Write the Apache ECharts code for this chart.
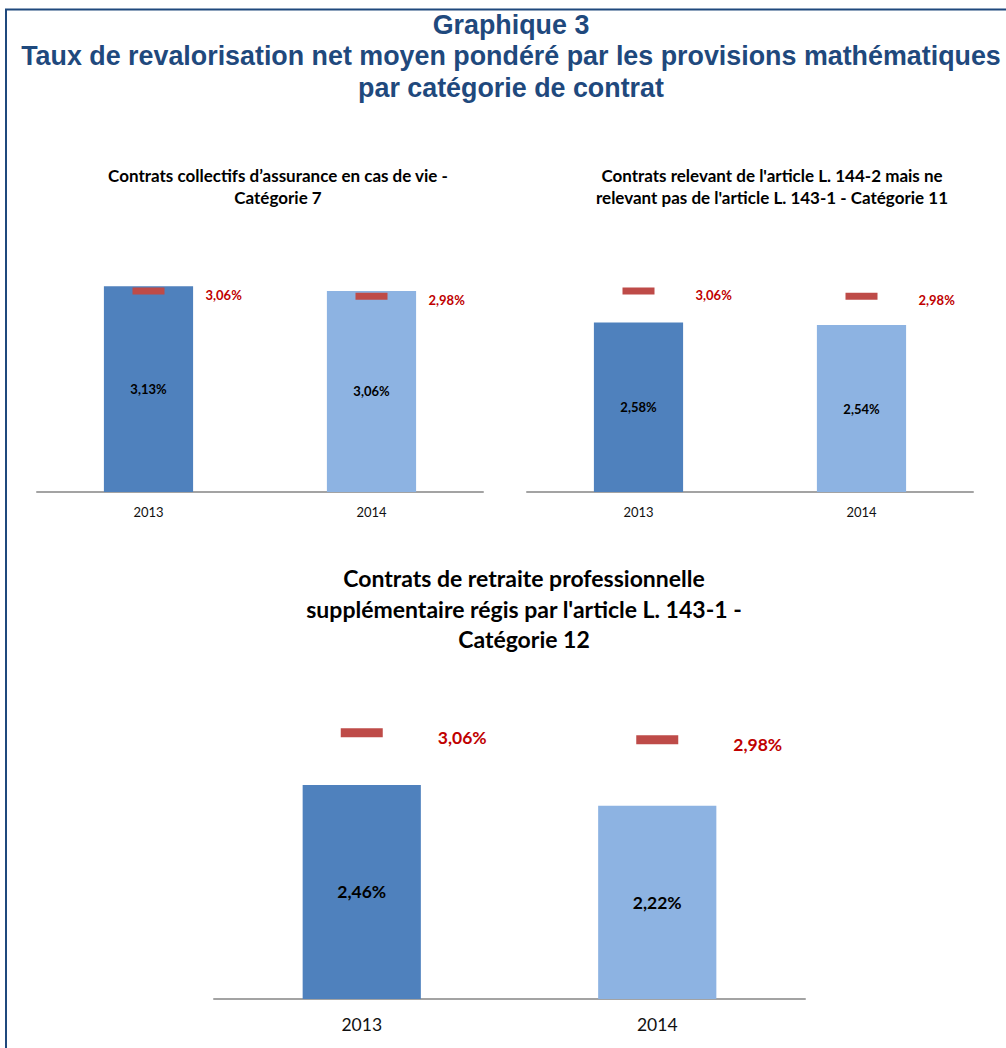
<!DOCTYPE html>
<html>
<head>
<meta charset="utf-8">
<script src="https://cdn.jsdelivr.net/npm/echarts@6/dist/echarts.min.js"></script>
<style>
  html, body { margin: 0; padding: 0; background: #ffffff; }
  #chart { width: 1006px; height: 1048px; }
</style>
</head>
<body>
<div id="chart"></div>
<script>
// Années de comparaison
const years = ['2013', '2014'];
// Taux net moyen pondéré par catégorie (barres)
const cat7Rates = [3.13, 3.06];
const cat11Rates = [2.58, 2.54];
const cat12Rates = [2.46, 2.22];
// Taux moyen de l'ensemble des contrats (tirets rouges)
const overallRates = [3.06, 2.98];

const mainTitle = 'Graphique 3\nTaux de revalorisation net moyen pondéré par les provisions mathématiques\npar catégorie de contrat';
const panelTitles = [
  'Contrats collectifs d’assurance en cas de vie -\nCatégorie 7',
  "Contrats relevant de l'article L. 144-2 mais ne\nrelevant pas de l'article L. 143-1 - Catégorie 11",
  "Contrats de retraite professionnelle\nsupplémentaire régis par l'article L. 143-1 -\nCatégorie 12"
];

const barColors = ['#4F81BD', '#8DB3E2'];
const fmt = v => v.toFixed(2).replace('.', ',') + '%';
const FONT = 'Lato, "Open Sans", sans-serif';

// Mise en page des trois graphiques
const panels = [
  { rates: cat7Rates, grid: { left: 37, top: 262, width: 446, height: 230 },
    titleX: 278, titleY: 164, titleSize: 17, titleLH: 22,
    valSize: 13, catSize: 13, catMargin: 13, mark: [32, 7], dist: 41, off: 4, axisW: 2 },
  { rates: cat11Rates, grid: { left: 527, top: 262, width: 446, height: 230 },
    titleX: 772, titleY: 164, titleSize: 17, titleLH: 22,
    valSize: 13, catSize: 13, catMargin: 13, mark: [32, 7], dist: 41, off: 4, axisW: 2 },
  { rates: cat12Rates, grid: { left: 214, top: 694.5, width: 591, height: 304.5 },
    titleX: 524, titleY: 563, titleSize: 23, titleLH: 30.5,
    valSize: 17.5, catSize: 17.5, catMargin: 16, mark: [42, 9], dist: 55, off: 5, axisW: 2 }
];

const option = {
  backgroundColor: '#ffffff',
  animation: false,
  title: [
    {
      text: mainTitle, left: 511, top: 9, textAlign: 'center', padding: 0,
      textStyle: { fontFamily: '"Liberation Sans", Arial, sans-serif', fontWeight: 'bold',
                   fontSize: 26.85, lineHeight: 31.5, color: '#1F497D' }
    }
  ].concat(panels.map((p, i) => ({
    text: panelTitles[i], left: p.titleX, top: p.titleY, textAlign: 'center', padding: 0,
    textStyle: { fontFamily: FONT, fontWeight: 'bold', fontSize: p.titleSize,
                 lineHeight: p.titleLH, color: '#000000' }
  }))),
  graphic: [
    { type: 'polyline', shape: { points: [[6, 1048], [6, 9.5], [1006, 9.5]] },
      style: { stroke: '#1F497D', lineWidth: 2, fill: null } }
  ],
  grid: panels.map(p => Object.assign({ containLabel: false }, p.grid)),
  xAxis: panels.map((p, i) => ({
    type: 'category', gridIndex: i, data: years,
    axisLine: { lineStyle: { color: '#A3A3A3', width: p.axisW } },
    axisTick: { show: false },
    axisLabel: { fontFamily: FONT, fontSize: p.catSize, color: '#111111', margin: p.catMargin }
  })),
  yAxis: panels.map((p, i) => ({
    type: 'value', gridIndex: i, min: 0, max: 3.5, show: false, splitLine: { show: false }
  })),
  series: []
};

panels.forEach((p, i) => {
  option.series.push({
    type: 'bar', xAxisIndex: i, yAxisIndex: i, barWidth: '40%',
    data: p.rates.map((v, k) => ({ value: v, itemStyle: { color: barColors[k] } })),
    label: { show: true, position: 'inside', formatter: d => fmt(d.value),
             fontFamily: FONT, fontWeight: 'bold', fontSize: p.valSize, color: '#000000' }
  });
  option.series.push({
    type: 'scatter', xAxisIndex: i, yAxisIndex: i,
    symbol: 'rect', symbolSize: p.mark,
    itemStyle: { color: '#BE4B48', opacity: 1 },
    data: overallRates,
    label: { show: true, position: 'right', distance: p.dist, offset: [0, p.off],
             formatter: d => fmt(d.value),
             fontFamily: FONT, fontWeight: 'bold', fontSize: p.valSize, color: '#C00000' }
  });
});

const chart = echarts.init(document.getElementById('chart'), null, { renderer: 'svg' });
chart.setOption(option);
</script>
</body>
</html>
